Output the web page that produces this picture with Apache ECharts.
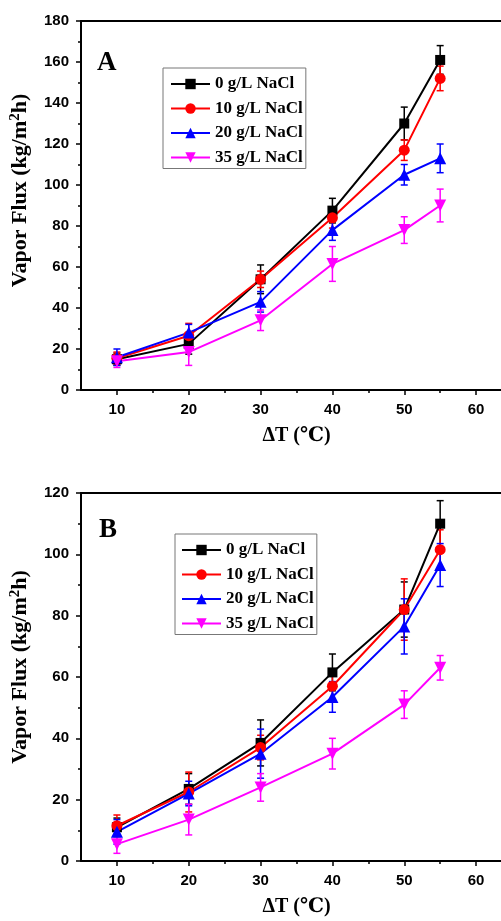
<!DOCTYPE html>
<html>
<head>
<meta charset="utf-8">
<script src="https://cdn.jsdelivr.net/npm/echarts@6/dist/echarts.min.js"></script>
<style>
html,body{margin:0;padding:0;background:#fff;}
#c{width:501px;height:921px;}
</style>
</head>
<body>
<div id="c"></div>
<script>
// ---- data ----
const dT = [10, 20, 30, 40, 50, 55];
const seriesNames = ['0 g/L NaCl', '10 g/L NaCl', '20 g/L NaCl', '35 g/L NaCl'];
const xTickLabels = [10, 20, 30, 40, 50, 60];
const xMinorTicks = [15, 25, 35, 45, 55];

// Panel A
const fluxA_0  = [15, 22.5, 54, 87.5, 130, 161];
const fluxA_10 = [15.5, 26.5, 54, 84, 117, 152];
const fluxA_20 = [16, 28, 43, 78, 105, 113];
const fluxA_35 = [14, 18.5, 34, 61.5, 78, 90];
const errA_0  = [3, 5, 7, 6, 8, 7];
const errA_10 = [3, 6, 4, 5, 5, 6];
const errA_20 = [4, 4, 5, 5, 5, 7];
const errA_35 = [3, 6.5, 5, 8.5, 6.5, 8];

// Panel B
const fluxB_0  = [11, 23.5, 38.5, 61.5, 82, 110];
const fluxB_10 = [11.5, 22.5, 37, 57, 82, 101.5];
const fluxB_20 = [9.5, 22, 35, 53.5, 76.5, 96.5];
const fluxB_35 = [5.5, 13.5, 24, 35, 51, 63];
const errB_0  = [3, 5, 7.5, 6, 9, 7.5];
const errB_10 = [3.5, 6.5, 4, 5, 10, 6.5];
const errB_20 = [4, 4, 8, 5, 9, 7];
const errB_35 = [3, 5, 4.5, 5, 4.5, 4];

// ---- styles ----
const colors = ['#000000', '#ff0000', '#0000ff', '#ff00ff'];
const symbols = ['rect', 'circle', 'triangle', 'triangle'];
const symbolRot = [0, 0, 0, 180];
const symbolSizes = [10, 11, 12, 12];
const SERIF = '"Liberation Serif", "DejaVu Serif", "Times New Roman", serif';
const SANS = '"Liberation Sans", Arial, sans-serif';

const chart = echarts.init(document.getElementById('c'), null, {renderer: 'canvas'});

function lineSeries(name, idx, vals, xi, yi) {
  return {
    type: 'line', name: name, xAxisIndex: xi, yAxisIndex: yi,
    data: dT.map((x, i) => [x, vals[i]]),
    symbol: symbols[idx], symbolRotate: symbolRot[idx], symbolSize: symbolSizes[idx],
    showAllSymbol: true,
    lineStyle: {color: colors[idx], width: 2},
    itemStyle: {color: colors[idx]},
    z: 3
  };
}
function errSeries(idx, vals, errs, xi, yi) {
  return {
    type: 'custom', xAxisIndex: xi, yAxisIndex: yi, silent: true, z: 2,
    data: dT.map((x, i) => [x, vals[i] - errs[i], vals[i] + errs[i]]),
    encode: {x: 0, y: [1, 2]},
    renderItem: function (params, api) {
      const x = api.value(0);
      const lo = api.coord([x, api.value(1)]);
      const hi = api.coord([x, api.value(2)]);
      const w = 3.5;
      const st = {stroke: colors[idx], lineWidth: 1.5};
      return {type: 'group', children: [
        {type: 'line', shape: {x1: lo[0], y1: lo[1], x2: hi[0], y2: hi[1]}, style: st},
        {type: 'line', shape: {x1: lo[0] - w, y1: lo[1], x2: lo[0] + w, y2: lo[1]}, style: st},
        {type: 'line', shape: {x1: hi[0] - w, y1: hi[1], x2: hi[0] + w, y2: hi[1]}, style: st}
      ]};
    }
  };
}

const axisLineStyle = {show: true, onZero: false, lineStyle: {color: '#000', width: 2}};
function xAxes(gi) {
  return [
    {type: 'value', gridIndex: gi, position: 'bottom', min: 5, max: 65, interval: 5,
     axisLine: axisLineStyle, splitLine: {show: false},
     axisTick: {show: true, length: 5, lineStyle: {color: '#000', width: 1.5}, customValues: xTickLabels},
     axisLabel: {color: '#000', fontFamily: SANS, fontWeight: 'bold', fontSize: 15, margin: 12, customValues: xTickLabels},
     name: 'ΔT (℃)', nameLocation: 'middle', nameGap: 36,
     nameTextStyle: {color: '#000', fontFamily: SERIF, fontWeight: 'bold', fontSize: 20}},
    {type: 'value', gridIndex: gi, position: 'bottom', min: 5, max: 65, interval: 5,
     axisLine: {show: false}, splitLine: {show: false}, axisLabel: {show: false},
     axisTick: {show: true, length: 3, lineStyle: {color: '#000', width: 1.5}, customValues: xMinorTicks}},
    {type: 'value', gridIndex: gi, position: 'top', min: 5, max: 65, interval: 5,
     axisLine: axisLineStyle, splitLine: {show: false}, axisLabel: {show: false}, axisTick: {show: false}}
  ];
}
function yAxis(gi, max, padUp) {
  return {
    type: 'value', gridIndex: gi, min: 0, max: max, interval: 20,
    axisLine: axisLineStyle, splitLine: {show: false},
    axisTick: {show: true, length: 5, lineStyle: {color: '#000', width: 1.5}},
    minorTick: {show: true, splitNumber: 2, length: 3, lineStyle: {color: '#000', width: 1.5}},
    axisLabel: {color: '#000', fontFamily: SANS, fontWeight: 'bold', fontSize: 15, margin: 12},
    name: 'Vapor Flux (kg/m{sup|2}h)', nameLocation: 'middle', nameGap: 42,
    nameTextStyle: {color: '#000', fontFamily: SERIF, fontWeight: 'bold', fontSize: 22, lineHeight: 25,
      padding: [0, 0, 0, padUp],
      rich: {sup: {fontFamily: SERIF, fontWeight: 'bold', fontSize: 15, lineHeight: 15, color: '#000', verticalAlign: 'top'}}}
  };
}
function legend(left, top, padL) {
  return {
    data: seriesNames, left: left, top: top, orient: 'vertical', selectedMode: false,
    itemWidth: 39, itemHeight: 13, itemGap: 6.5,
    padding: [7, 3, 2, padL], borderColor: '#777', borderWidth: 1,
    textStyle: {color: '#000', fontFamily: SERIF, fontWeight: 'bold', fontSize: 17, lineHeight: 18}
  };
}

const allSeries = [];
const A = [fluxA_0, fluxA_10, fluxA_20, fluxA_35], EA = [errA_0, errA_10, errA_20, errA_35];
const B = [fluxB_0, fluxB_10, fluxB_20, fluxB_35], EB = [errB_0, errB_10, errB_20, errB_35];
for (let i = 0; i < 4; i++) {
  allSeries.push(errSeries(i, A[i], EA[i], 0, 0));
  allSeries.push(lineSeries(seriesNames[i], i, A[i], 0, 0));
}
for (let i = 0; i < 4; i++) {
  allSeries.push(errSeries(i, B[i], EB[i], 3, 1));
  allSeries.push(lineSeries(seriesNames[i], i, B[i], 3, 1));
}

chart.setOption({
  animation: false,
  backgroundColor: '#fff',
  title: [
    {text: 'A', left: 97, top: 50, padding: 0, textStyle: {fontFamily: SERIF, fontWeight: 'bold', fontSize: 27, color: '#000'}},
    {text: 'B', left: 99, top: 517, padding: 0, textStyle: {fontFamily: SERIF, fontWeight: 'bold', fontSize: 27, color: '#000'}}
  ],
  legend: [legend(163, 68, 7), legend(175, 534, 6)],
  grid: [
    {left: 81, top: 21, width: 431, height: 369, outerBoundsMode: 'none', containLabel: false},
    {left: 81, top: 493, width: 431, height: 368, outerBoundsMode: 'none', containLabel: false}
  ],
  xAxis: [].concat(xAxes(0), xAxes(1)),
  yAxis: [yAxis(0, 180, 30), yAxis(1, 120, 20)],
  series: allSeries
});
</script>
</body>
</html>
